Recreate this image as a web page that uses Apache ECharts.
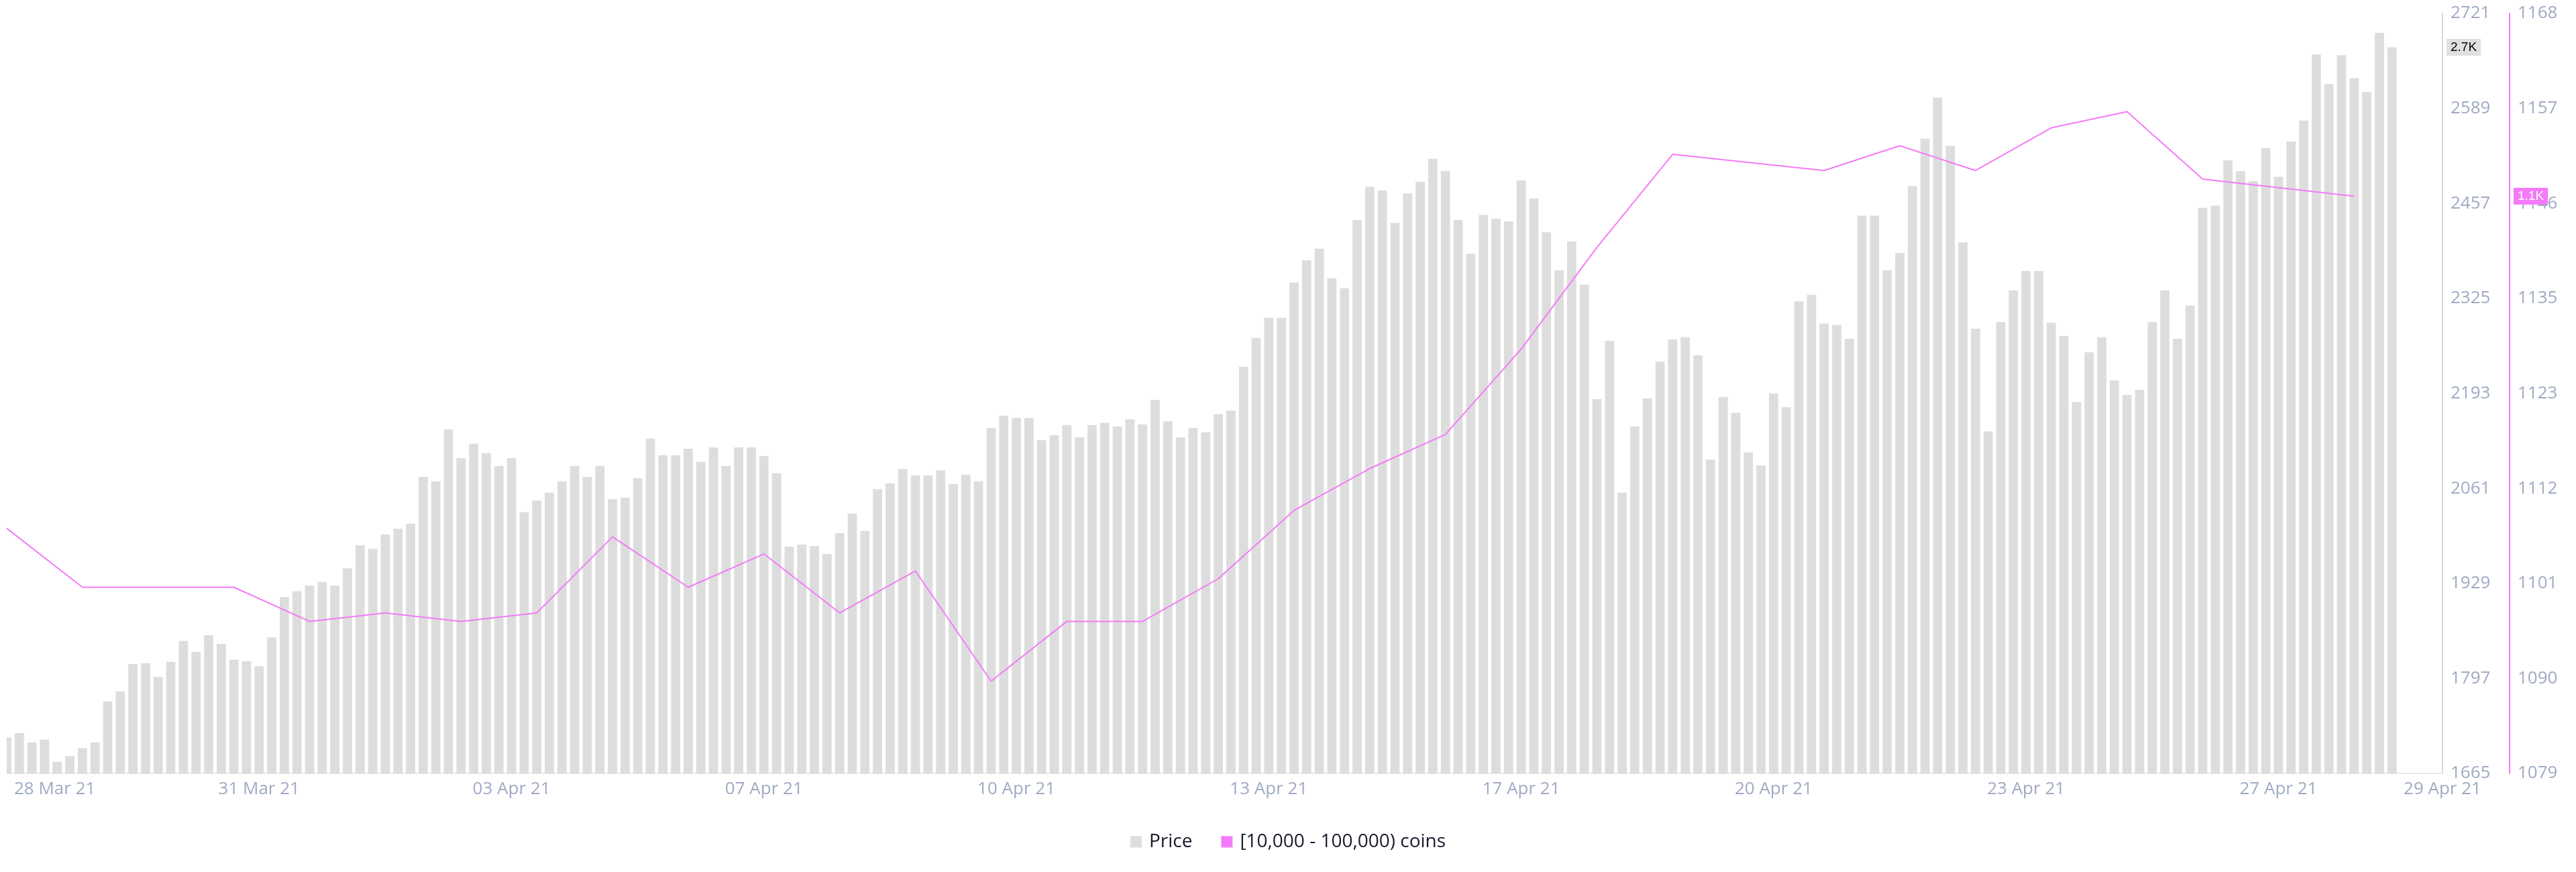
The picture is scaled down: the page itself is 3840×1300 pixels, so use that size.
<!DOCTYPE html>
<html>
<head>
<meta charset="utf-8">
<script src="https://cdn.jsdelivr.net/npm/echarts@6/dist/echarts.min.js"></script>
<style>
html,body{margin:0;padding:0;background:#fff;}
#chart{width:3840px;height:1300px;}
</style>
</head>
<body>
<div id="chart"></div>
<script>
// Price, one bar every 4 hours (bar index 0..189)
const priceValues = [
1715,1721,1708,1712,1681,1689,1700,1708,1765,1779,
1817,1818,1799,1820,1849,1834,1857,1845,1823,1821,
1814,1854,1910,1918,1926,1931,1926,1950,1982,1977,
1997,2005,2012,2077,2071,2143,2103,2123,2110,2092,
2103,2028,2044,2055,2071,2092,2077,2092,2046,2048,
2075,2130,2107,2107,2116,2098,2118,2092,2118,2118,
2106,2082,1980,1983,1981,1970,1999,2026,2002,2060,
2068,2088,2079,2079,2086,2067,2080,2071,
2145,2162,2159,2159,2128,2135,2149,2132,2149,2152,
2147,2157,2150,2184,2154,2132,2145,2139,2164,2169,
2230,2270,2298,2298,2347,2378,2394,2353,2339,2434,
2480,2475,2430,2471,2487,2519,2502,2434,
2387,2441,2436,2432,2489,2464,2417,2364,2404,2344,
2185,2266,2055,2147,2186,2237,2268,2271,2246,2101,
2188,2166,2111,2093,2193,2174,2321,2330,2290,2288,
2269,2440,2440,2364,2388,2481,2547,2604,2537,2403,
2283,2140,2292,2336,2363,2363,2291,2273,2181,2250,
2271,2211,2191,2198,2292,2336,2269,2315,2451,2454,
2517,2502,2488,2534,2494,2543,2572,2664,2623,2663,
2631,2612,2694,2674
];

// Holders [10,000 - 100,000) coins, one value per day (day k sits at bar index 6*k)
const holderValues = [
1107.6,1100.7,1100.7,1100.7,1096.7,1097.7,1096.7,1097.7,1106.6,1100.7,
1104.6,1097.7,1102.6,1089.7,1096.7,1096.7,1101.7,1109.7,1114.6,1118.6,
1128.6,1140.5,1151.4,null,1149.5,1152.4,1149.5,1154.5,1156.4,1148.5,
null,1146.5
];
const barsPerDay = 6;

// x tick labels (ticks every 20 bars, plus the end of the range)
const xTickLabels = ['28 Mar 21','31 Mar 21','03 Apr 21','07 Apr 21','10 Apr 21','13 Apr 21','17 Apr 21','20 Apr 21','23 Apr 21','27 Apr 21','29 Apr 21'];

const priceSeriesName = 'Price';
const holderSeriesName = '[10,000 - 100,000) coins';

const PINK = '#f47bf7';
const BAR = '#dddddd';
const LABEL = '#9faac4';
const FONT = 'Open Sans';

const barData = priceValues.map((v, i) => [i, v]);
const lineData = holderValues.map((v, k) => [k * barsPerDay, v]);
const lastPrice = priceValues[priceValues.length - 1];
let lastHolder = null;
for (let k = holderValues.length - 1; k >= 0; k--) { if (holderValues[k] != null) { lastHolder = holderValues[k]; break; } }
const kFmt = v => (v / 1000).toFixed(1) + 'K';

// bars drawn through the axes' scales and clipped to the plot area (first bar is half cut, as in the source)
function renderBar(params, api) {
  const cs = params.coordSys;
  const x = api.value(0), y = api.value(1);
  const top = api.coord([x, y]);
  const w = api.size([1, 0])[0] * 0.73;
  const bottom = cs.y + cs.height;
  const rect = echarts.graphic.clipRectByRect(
    {x: top[0] - w / 2, y: top[1], width: w, height: bottom - top[1]},
    {x: cs.x, y: cs.y, width: cs.width, height: cs.height}
  );
  return rect && {type: 'rect', shape: rect, style: {fill: BAR}};
}

const chart = echarts.init(document.getElementById('chart'), null, {renderer: 'canvas'});
chart.setOption({
  animation: false,
  backgroundColor: '#ffffff',
  grid: {left: 10, right: 199, top: 20, bottom: 147, containLabel: false},
  legend: {
    left: 'center', top: 1236,
    itemWidth: 17, itemHeight: 17, itemGap: 43,
    icon: 'rect',
    textStyle: {color: '#181b2b', fontSize: 28, fontFamily: FONT, padding: [0, 0, 0, 6]},
    data: [{name: priceSeriesName, icon: 'rect', itemStyle: {color: BAR}}, {name: holderSeriesName, icon: 'rect', itemStyle: {color: PINK}}]
  },
  xAxis: {
    type: 'value', min: 0, max: 193, interval: 20,
    axisLine: {show: true, onZero: false, lineStyle: {color: '#e6e8f1', width: 2}},
    axisTick: {show: false},
    splitLine: {show: false},
    axisLabel: {
      color: LABEL, fontSize: 26, fontFamily: FONT, margin: 11,
      showMinLabel: true, showMaxLabel: true,
      alignMinLabel: 'left',
      formatter: (v, i) => i === 0 ? '{first|' + xTickLabels[i] + '}' : (xTickLabels[i] || ''),
      rich: {first: {color: LABEL, fontSize: 26, fontFamily: FONT, padding: [0, 0, 0, 11]}}
    }
  },
  yAxis: [
    {
      type: 'value', position: 'right', min: 1665, max: 2721, interval: 132,
      axisLine: {show: true, onZero: false, lineStyle: {color: '#d8d8d8', width: 2}},
      axisTick: {show: false}, splitLine: {show: false},
      axisLabel: {color: LABEL, fontSize: 26, fontFamily: FONT, margin: 12, formatter: v => String(Math.round(v))}
    },
    {
      type: 'value', position: 'right', offset: 100, min: 1078.9, max: 1167.9, interval: 11.125,
      axisLine: {show: true, onZero: false, lineStyle: {color: PINK, width: 2}},
      axisTick: {show: false}, splitLine: {show: false},
      axisLabel: {color: LABEL, fontSize: 26, fontFamily: FONT, margin: 12, formatter: v => String(Math.round(v))}
    }
  ],
  series: [
    {
      name: priceSeriesName, type: 'custom', xAxisIndex: 0, yAxisIndex: 0,
      data: barData, encode: {x: 0, y: 1},
      renderItem: renderBar,
      itemStyle: {color: BAR}
    },
    {
      name: holderSeriesName, type: 'line', xAxisIndex: 0, yAxisIndex: 1,
      data: lineData, connectNulls: true, symbol: 'none', z: 5,
      lineStyle: {color: PINK, width: 2}, itemStyle: {color: PINK}
    },
    {
      // last-value badge on the price axis
      name: 'priceBadge', type: 'line', xAxisIndex: 0, yAxisIndex: 0,
      data: [], silent: true, z: 10,
      markLine: {
        silent: true, symbol: ['none', 'none'], animation: false,
        lineStyle: {color: 'rgba(0,0,0,0)', width: 1, type: 'solid'},
        label: {show: true, position: 'end', distance: 6, formatter: p => kFmt(p.value),
          backgroundColor: '#e0e0e0', color: '#000', fontSize: 19, fontFamily: 'Liberation Sans', padding: [3, 6, 3, 6]},
        data: [{yAxis: lastPrice}]
      }
    },
    {
      // last-value badge on the holders axis
      name: 'holderBadge', type: 'line', xAxisIndex: 0, yAxisIndex: 1,
      data: [], silent: true, z: 10,
      markLine: {
        silent: true, symbol: ['none', 'none'], animation: false,
        lineStyle: {color: 'rgba(0,0,0,0)', width: 1, type: 'solid'},
        label: {show: true, position: 'end', distance: 106, formatter: p => kFmt(p.value),
          backgroundColor: PINK, color: '#fff', fontSize: 19, fontFamily: 'Liberation Sans', padding: [3, 6, 3, 6]},
        data: [{yAxis: lastHolder}]
      }
    }
  ]
});
</script>
</body>
</html>
